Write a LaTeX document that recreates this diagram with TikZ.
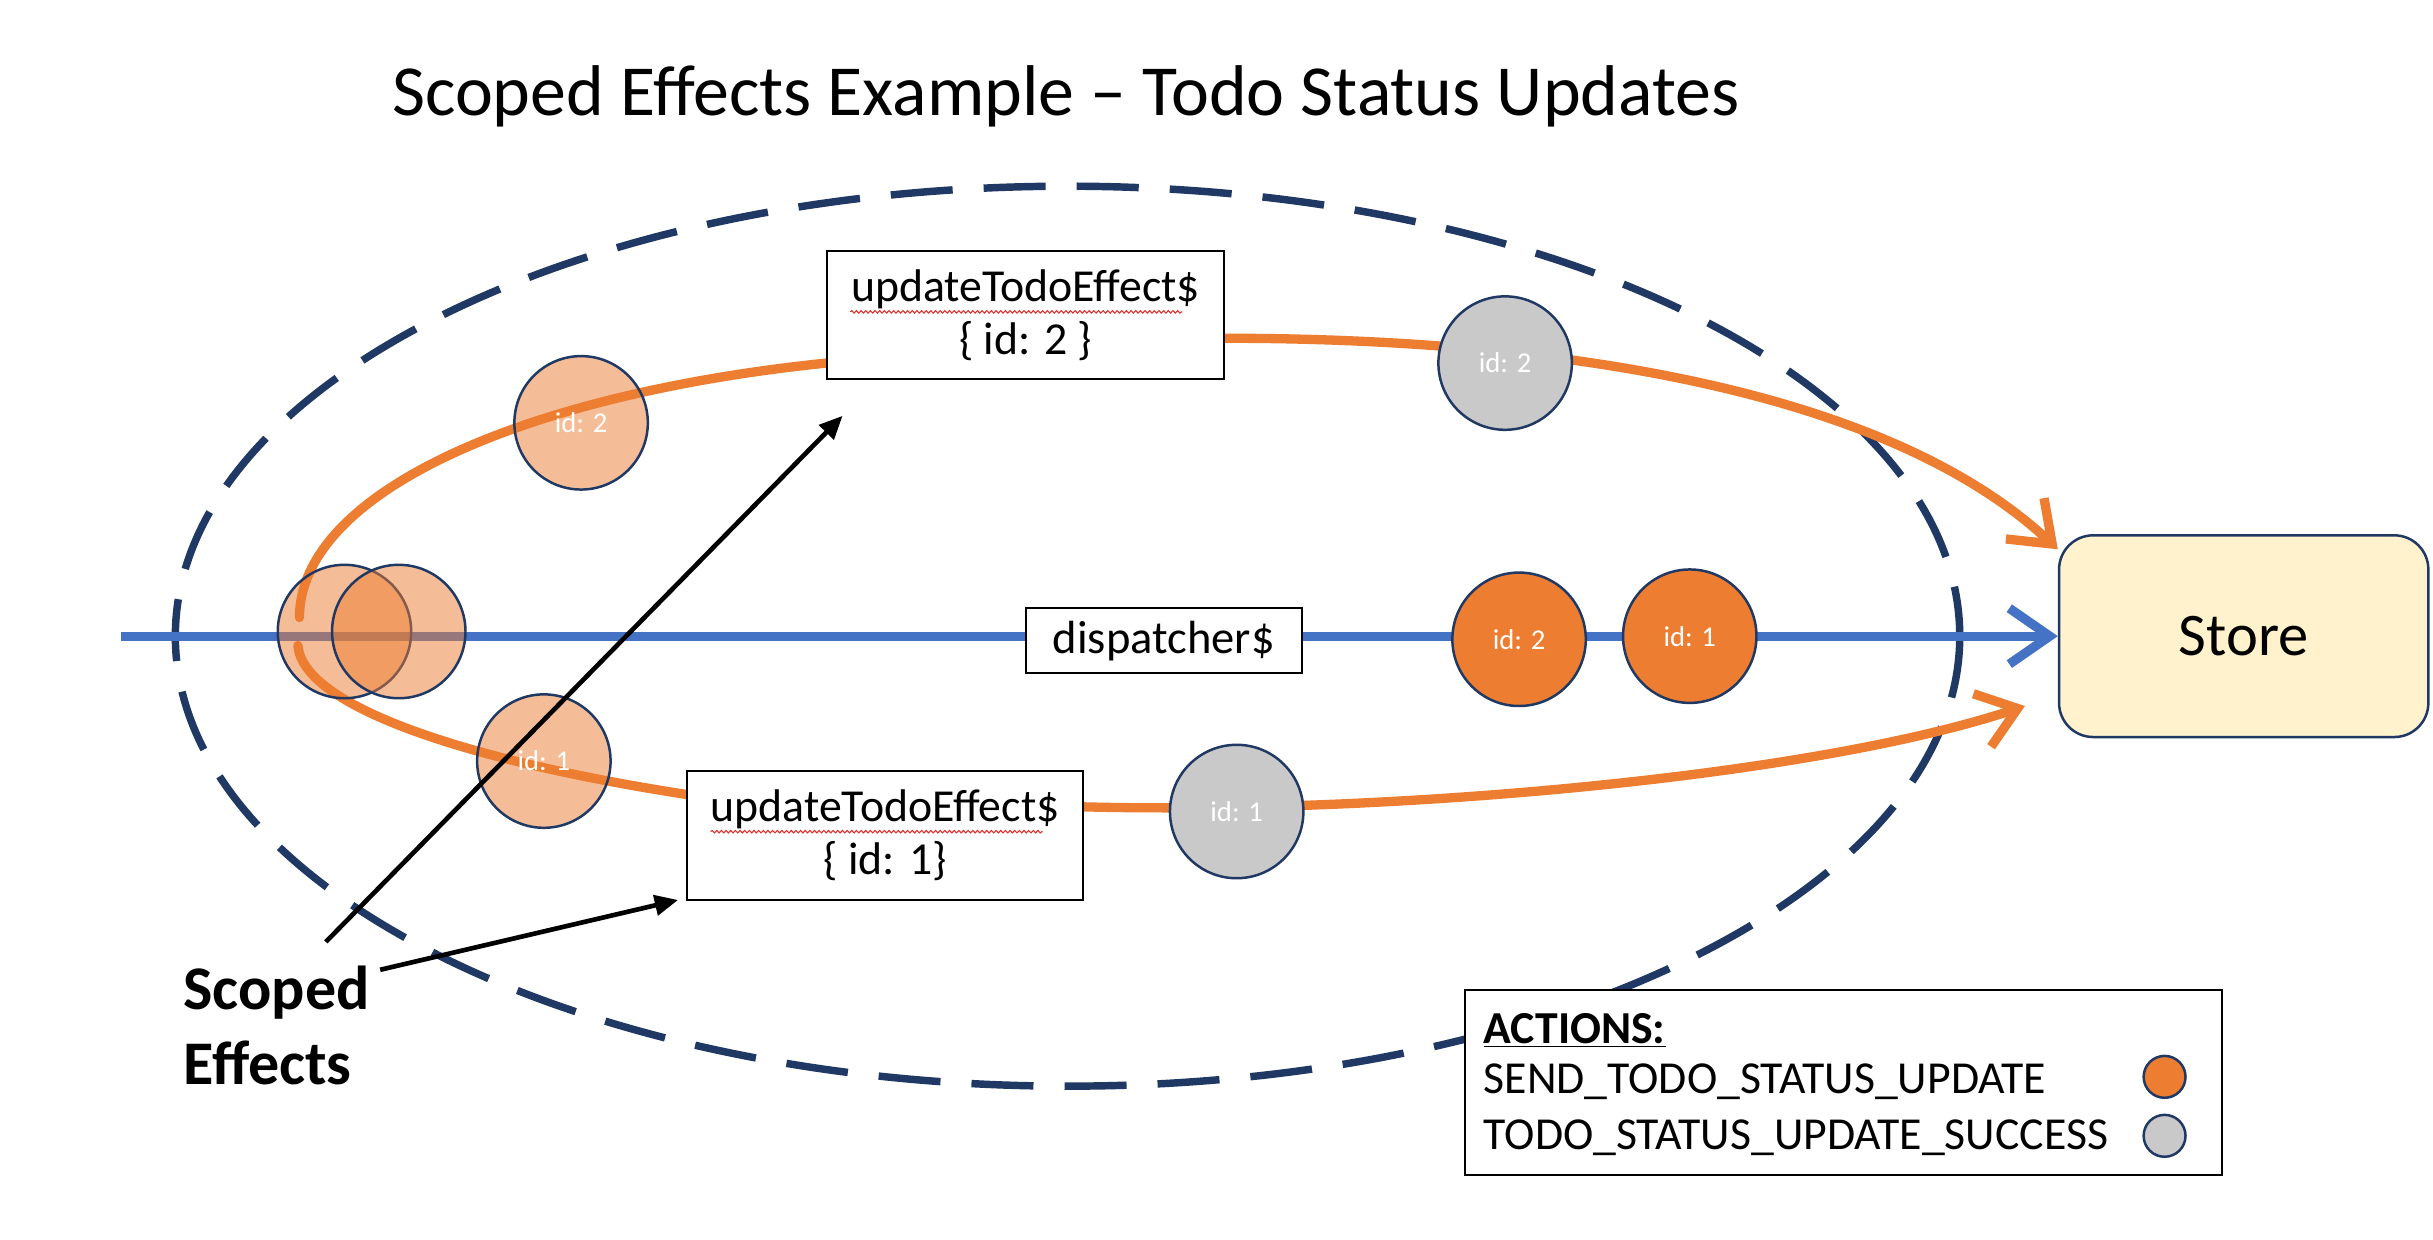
\documentclass[tikz,border=0pt]{standalone}
\usepackage{fontspec}
\setmainfont{Carlito}
\usetikzlibrary{arrows.meta,decorations.pathmorphing}
\definecolor{navy}{HTML}{1F3864}
\definecolor{orng}{HTML}{ED7D31}
\definecolor{blu}{HTML}{4472C4}
\definecolor{storefill}{HTML}{FFF2CC}
\definecolor{gry}{HTML}{C9C9C9}
\definecolor{squig}{HTML}{E03030}
\tikzset{
  fxbox/.style={draw=black, fill=white, line width=1.3pt, inner sep=0pt, align=center,
    font=\fontsize{29.5}{34}\selectfont},
  ball/.style={circle, draw=navy, line width=1.6pt, minimum size=86pt, inner sep=0pt,
    text=white, font=\fontsize{18.5}{20}\selectfont},
  lightball/.style={ball, fill=orng, fill opacity=0.5, text opacity=1},
  grayball/.style={ball, fill=gry},
  orangeball/.style={ball, fill=orng},
  flow/.style={draw=orng, line width=6pt, line cap=round},
  flowtip/.style={-{Straight Barb[length=24pt,width=36pt]}},
  pointer/.style={draw=black, line width=3pt, -{Triangle[length=15pt,width=13pt]}},
  legtext/.style={anchor=west, inner sep=0pt, font=\fontsize{29.5}{32}\selectfont},
  squiggle/.style={draw=squig, line width=0.7pt, decorate,
    decoration={snake, amplitude=0.8pt, segment length=3pt}}
}
\begin{document}
\begin{tikzpicture}[x=1pt,y=-1pt]
\useasboundingbox[fill=white] (0,0) rectangle (1568,799);

% title
\node[font=\fontsize{46.3}{52}\selectfont] (title) at (687,62) {Scoped Effects Example – Todo Status Updates};

% dashed scope ellipse
\draw[navy, line width=4.8pt, dash pattern=on 40pt off 20pt] (688,410) ellipse [x radius=575, y radius=290];

% boxes
\node[fxbox, minimum width=256pt, minimum height=82pt] (ub) at (661,203) {updateTodoEffect\$\\\{ id: 2 \}};
\node[fxbox, minimum width=255pt, minimum height=83pt] (lb) at (570.5,538.5) {updateTodoEffect\$\\\{ id: 1\}};
\node[draw=navy, fill=storefill, line width=1.6pt, rounded corners=22pt, minimum width=238pt,
  minimum height=130pt, font=\fontsize{39}{42}\selectfont] (st) at (1446,410) {Store};

% coordinates
\coordinate (bstart) at (78,410);
\coordinate (ustart) at (193,398);
\coordinate (lstart) at (192,416);
\coordinate (ltip) at (1305,455);

% blue dispatcher line
\draw[blu, line width=6pt, -{Straight Barb[length=26pt,width=36pt]}] (bstart) -- (st.west);
\node[fxbox, minimum width=178pt, minimum height=42pt, font=\fontsize{30}{34}\selectfont] (disp) at (750,413) {dispatcher\$};

% orange flows
\draw[flow] (ustart) .. controls (193,320) and (330,255) .. ([yshift=-31pt]ub.west);
\draw[flow, flowtip] ([yshift=-15pt]ub.east) .. controls (1000,218) and (1215,250) .. ([yshift=56pt]st.west);
\draw[flow] (lstart) .. controls (195,455) and (300,490) .. ([yshift=26.5pt]lb.west);
\draw[flow, flowtip] ([yshift=18.5pt]lb.east) .. controls (900,525) and (1170,500) .. (ltip);

% redraw boxes on top of flows
\node[fxbox, minimum width=256pt, minimum height=82pt] at (ub) {updateTodoEffect\$\\\{ id: 2 \}};
\node[fxbox, minimum width=255pt, minimum height=83pt] at (lb) {updateTodoEffect\$\\\{ id: 1\}};

% spell-check squiggles
\draw[squiggle] (548,201) -- (762,201);
\draw[squiggle] (458,536) -- (672,536);

% action balls
\node[lightball] (a1) at (222,407) {};
\node[lightball] (a2) at (257,407) {};
\node[lightball] (u2) at (374.5,272.5) {id: 2};
\node[lightball] (l1) at (350.5,490.5) {id: 1};
\node[grayball] (g2) at (970,234) {id: 2};
\node[grayball] (g1) at (797,523) {id: 1};
\node[orangeball] (o2) at (979,412) {id: 2};
\node[orangeball] (o1) at (1089,410) {id: 1};

% scoped effects label and pointers
\node[anchor=west, align=left, inner sep=0pt, font=\bfseries\fontsize{40}{48}\selectfont] (se) at (118,661) {Scoped\\Effects};
\coordinate (p1s) at (210,607);
\coordinate (p1e) at (543,268);
\coordinate (p2s) at (245,625);
\coordinate (p2e) at (437,580);
\draw[pointer] (p1s) -- (p1e);
\draw[pointer] (p2s) -- (p2e);

% legend
\node[draw=black, fill=white, line width=1.3pt, minimum width=488pt, minimum height=119pt] (leg) at (1188,697.5) {};
\node[legtext, font=\bfseries\fontsize{29.5}{32}\selectfont] (lh) at (956,664) {\underline{ACTIONS:}};
\node[legtext] (l1t) at (956,697) {SEND\_TODO\_STATUS\_UPDATE};
\node[legtext] (l2t) at (956,733) {TODO\_STATUS\_UPDATE\_SUCCESS};
\node[circle, draw=navy, line width=1.6pt, fill=orng, minimum size=27pt, inner sep=0pt] (lo) at (1395,694) {};
\node[circle, draw=navy, line width=1.6pt, fill=gry, minimum size=27pt, inner sep=0pt] (lg) at (1395,732) {};
\end{tikzpicture}
\end{document}
